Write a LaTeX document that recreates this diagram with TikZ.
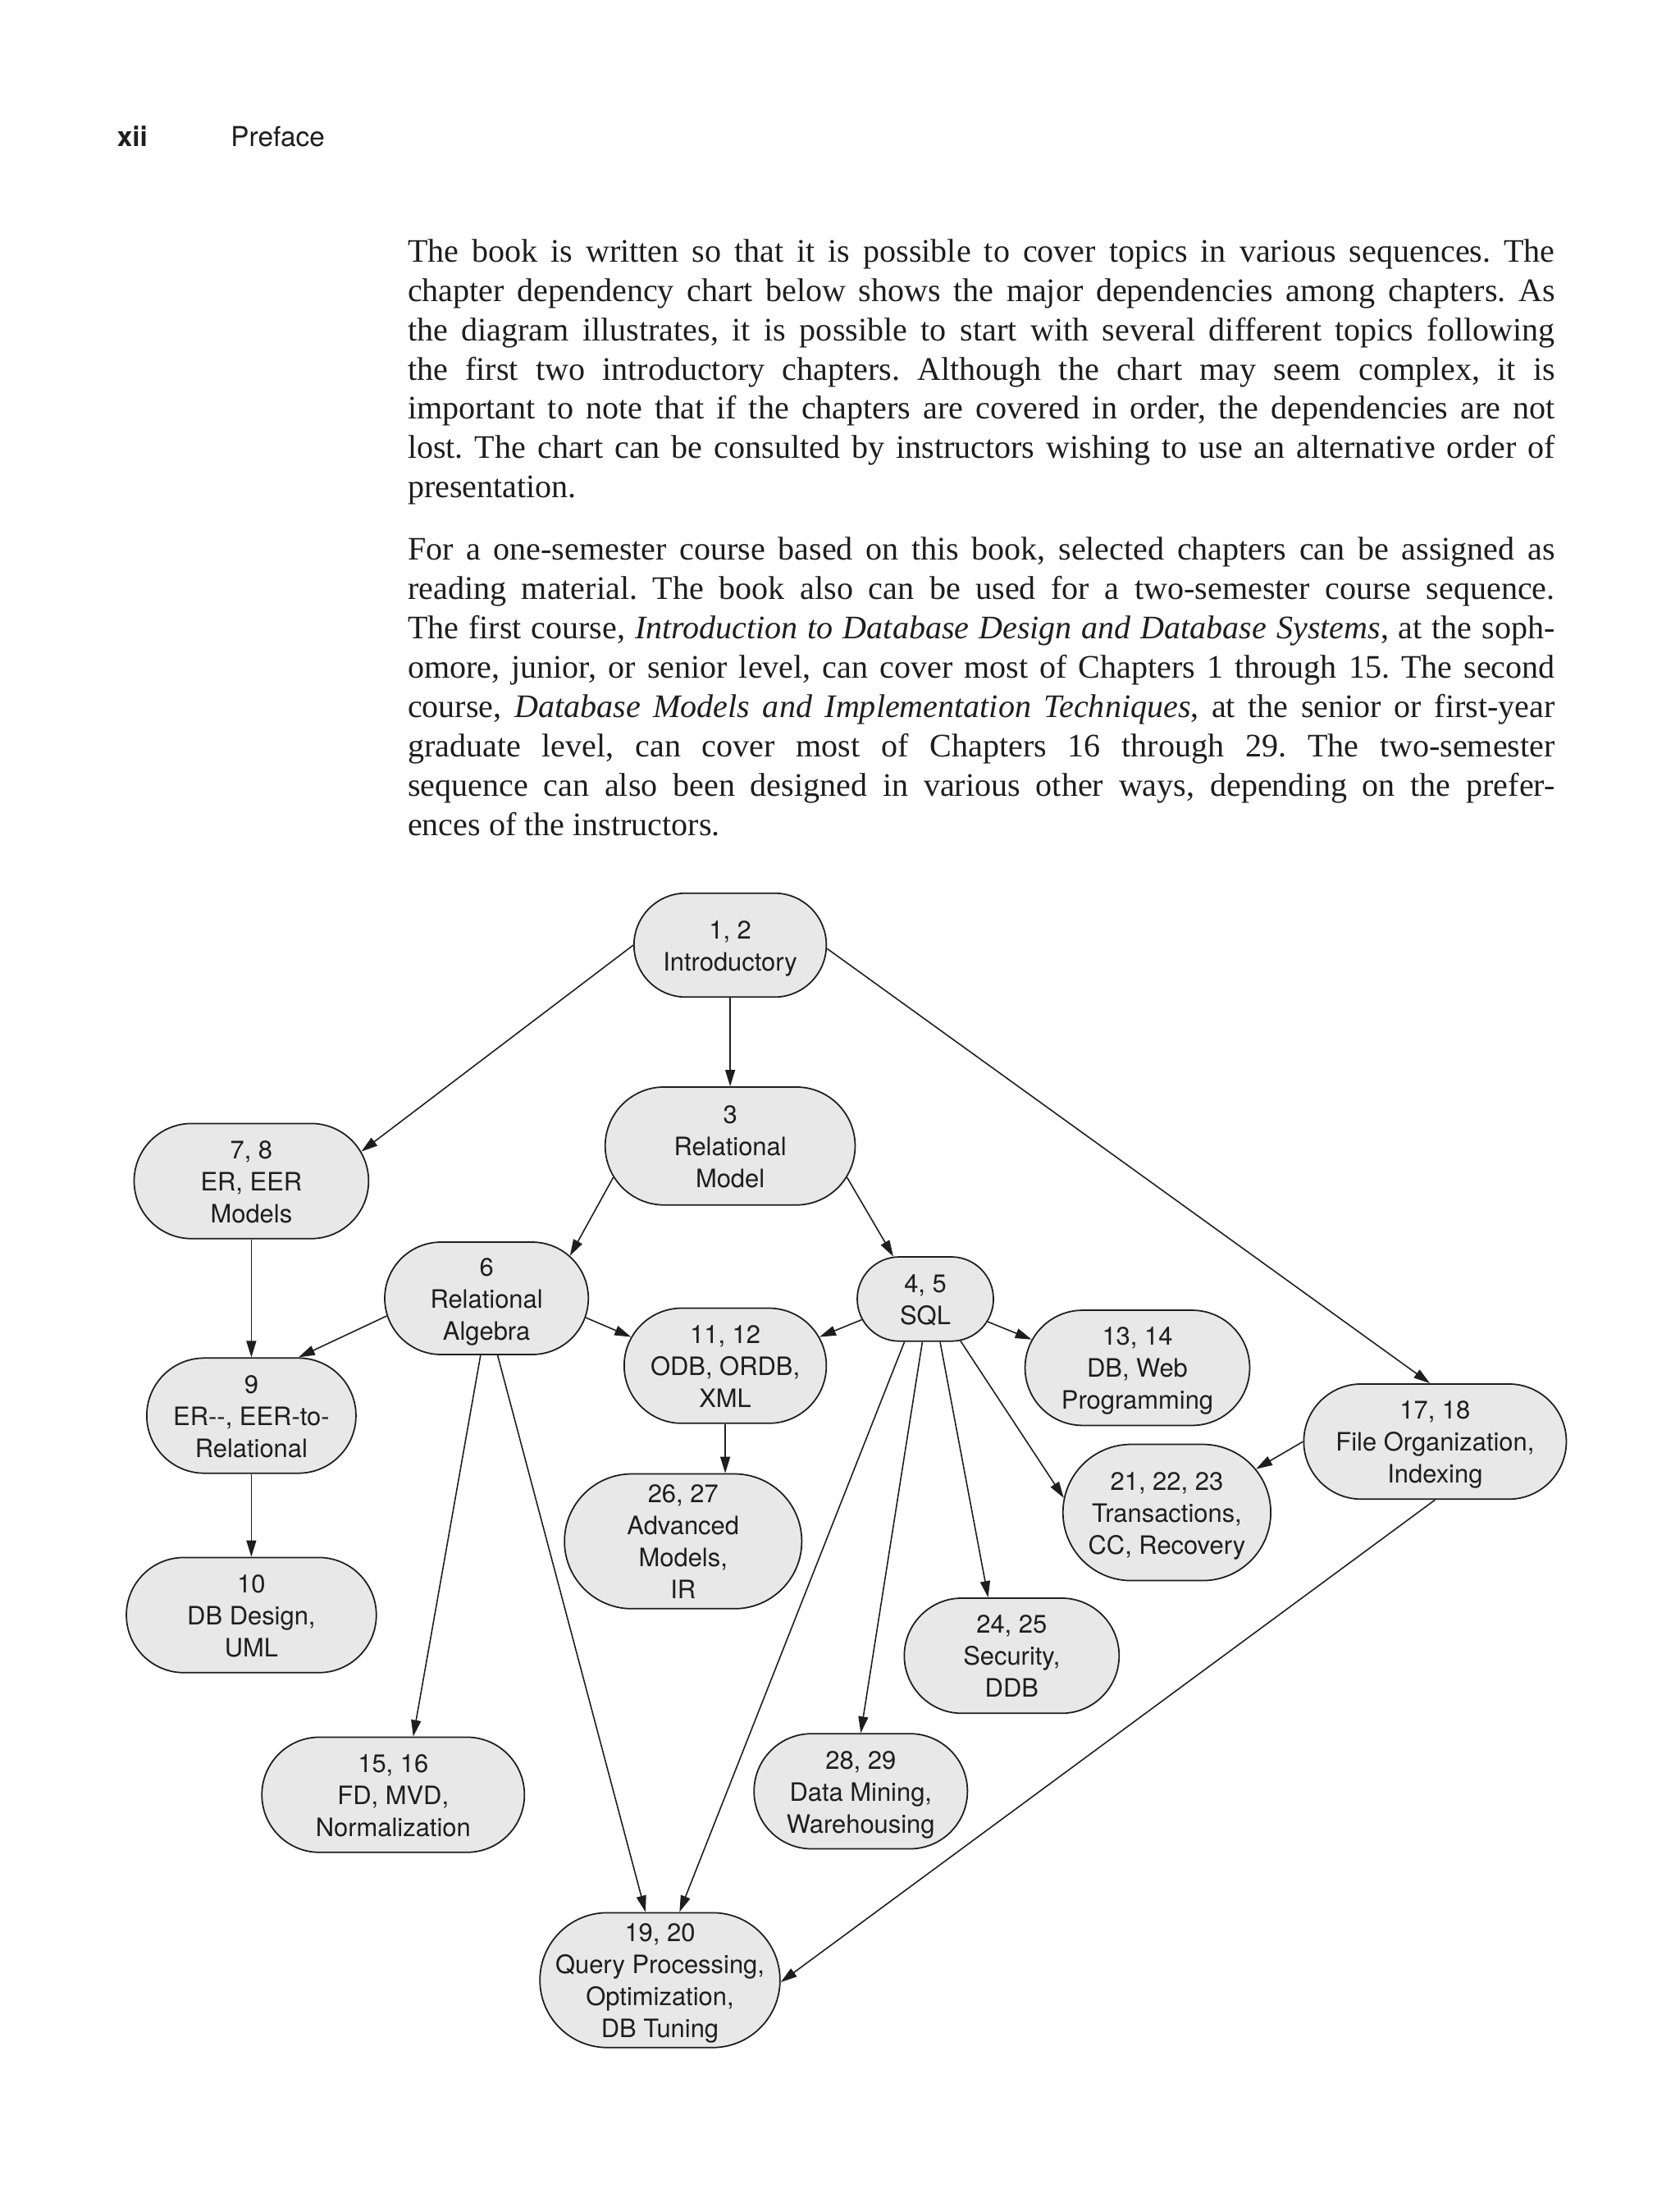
\documentclass[tikz,border=0pt]{standalone}
\usepackage{fontspec}
\setmainfont{Liberation Serif}
\setsansfont{TeX Gyre Heros}
\usepackage{xcolor}
\definecolor{chapfill}{RGB}{232,232,232}
\definecolor{ink}{RGB}{30,30,30}
\usepackage{tikz}
\usetikzlibrary{shapes.misc, arrows.meta, positioning}
\newdimen\spx \spx=0.017124cm
% one justified text line, and the last line of a paragraph
\newcommand{\jline}[1]{\hbox to 817\spx{#1}}
\newcommand{\eline}[1]{\hbox{#1}}
% chapter label: centred lines in a box of no width
\newcommand{\chapt}[1]{\makebox[0pt]{\raisebox{-1.1pt}[\height][\depth]{\begin{tabular}{@{}c@{}}#1\end{tabular}}}}

\begin{document}
\begin{tikzpicture}[
  x=\spx, y=-\spx,
  chap/.style={rounded rectangle, draw=ink, fill=chapfill, line width=0.5pt,
               inner xsep=0pt, inner ysep=0pt, text=ink,
               font=\sffamily\fontsize{8.8}{11.1}\selectfont},
  arr/.style={-{Triangle[length=2mm,width=1.2mm]}, line width=0.45pt, ink},
  para/.style={anchor=base west, inner sep=0pt, text=ink,
               font=\fontsize{11.4}{13.64}\selectfont\frenchspacing},
  head/.style={anchor=base west, inner sep=0pt, text=ink,
               font=\sffamily\fontsize{9.5}{11}\selectfont}
]
\fill[white] (0,0) rectangle (1196,1568);
\useasboundingbox (0,0) rectangle (1196,1568);

% ---- Page head and text ----
\node[head, font=\sffamily\bfseries\fontsize{9.5}{11}\selectfont] (pagenum) at (83,104.5) {xii};
\node[head] (running) at (164,104.5) {Preface};

\node[para] (intro) at (290,186.5) {\vtop{%
\jline{The book is written so that it is possible to cover topics in various sequences. The}
\jline{chapter dependency chart below shows the major dependencies among chapters. As}
\jline{the diagram illustrates, it is possible to start with several different topics following}
\jline{the first two introductory chapters. Although the chart may seem complex, it is}
\jline{important to note that if the chapters are covered in order, the dependencies are not}
\jline{lost. The chart can be consulted by instructors wishing to use an alternative order of}
\eline{presentation.}}};

\node[para] (course) at (290,399) {\vtop{%
\jline{For a one-semester course based on this book, selected chapters can be assigned as}
\jline{reading material. The book also can be used for a two-semester course sequence.}
\jline{The first course, \textit{Introduction to Database Design and Database Systems}, at the soph-}
\jline{omore, junior, or senior level, can cover most of Chapters 1 through 15. The second}
\jline{course, \textit{Database Models and Implementation Techniques}, at the senior or first-year}
\jline{graduate level, can cover most of Chapters 16 through 29. The two-semester}
\jline{sequence can also been designed in various other ways, depending on the prefer-}
\eline{ences of the instructors.}}};

% ---- Left column ----
\node[chap, minimum width=137\spx, minimum height=74\spx] (n12) at (520,673) {\chapt{1, 2\\Introductory}};
\node[chap, minimum width=178\spx, minimum height=84\spx, below=63\spx of n12] (n3) {\chapt{3\\Relational\\Model}};
\node[chap, minimum width=167\spx, minimum height=82\spx] (n78) at (179,841) {\chapt{7, 8\\ER, EER\\Models}};
\node[chap, minimum width=149\spx, minimum height=82\spx, below=84\spx of n78] (n9) {\chapt{9\\ER-{}-, EER-to-\\Relational}};
\node[chap, minimum width=178\spx, minimum height=82\spx, below=59\spx of n9] (n10) {\chapt{10\\DB Design,\\UML}};

% ---- Middle column ----
\node[chap, minimum width=145\spx, minimum height=80\spx] (n6) at (346.5,924.5) {\chapt{6\\Relational\\Algebra}};
\node[chap, minimum width=144\spx, minimum height=82\spx] (n1112) at (516.5,972.5) {\chapt{11, 12\\ODB, ORDB,\\XML}};
\node[chap, minimum width=169\spx, minimum height=96\spx, below=35\spx of n1112, xshift=-30\spx] (n2627) {\chapt{26, 27\\Advanced\\Models,\\IR}};
\node[chap, minimum width=187\spx, minimum height=82\spx] (n1516) at (280,1278) {\chapt{15, 16\\FD, MVD,\\Normalization}};
\node[chap, minimum width=171\spx, minimum height=96\spx] (n1920) at (470,1410) {\chapt{19, 20\\Query Processing,\\Optimization,\\DB Tuning}};

% ---- Right column ----
\node[chap, minimum width=97\spx, minimum height=60\spx] (n45) at (659,925) {\chapt{4, 5\\SQL}};
\node[chap, minimum width=160\spx, minimum height=82\spx] (n1314) at (810,974) {\chapt{13, 14\\DB, Web\\Programming}};
\node[chap, minimum width=187\spx, minimum height=82\spx] (n1718) at (1022,1026.5) {\chapt{17, 18\\File Organization,\\Indexing}};
\node[chap, minimum width=148\spx, minimum height=97\spx] (n2123) at (831,1077) {\chapt{21, 22, 23\\Transactions,\\CC, Recovery}};
\node[chap, minimum width=153\spx, minimum height=82\spx] (n2425) at (720.5,1179) {\chapt{24, 25\\Security,\\DDB}};
\node[chap, minimum width=152\spx, minimum height=82\spx] (n2829) at (613,1275.5) {\chapt{28, 29\\Data Mining,\\Warehousing}};

% ---- Dependencies ----
\draw[arr] (n12.west) -- (n78.15);
\draw[arr] (n12.south) -- (n3.north);
\draw[arr] (n12.358) -- (n1718.95);
\draw[arr] (n3.195) -- (n6.27);
\draw[arr] (n3.345) -- (n45.127);
\draw[arr] (n78.south) -- (n9.north);
\draw[arr] (n9.south) -- (n10.north);
\draw[arr] (n6.190) -- (n9.51);
\draw[arr] (n6.349) -- (n1112.163);
\draw[arr] (n6.264) -- (n1516.71);
\draw[arr] (n6.281) -- (n1920.102);
\draw[arr] (n1112.south) -- (n1112.south |- n2627.north);
\draw[arr] (n45.198) -- (n1112.17);
\draw[arr] (n45.340) -- (n1314.165);
\draw[arr] (n45.244) -- (n1920.74);
\draw[arr] (n45.266) -- (n2829.90);
\draw[arr] (n45.289) -- (n2425.112);
\draw[arr] (n45.310) -- (n2123.172);
\draw[arr] (n1718.180) -- (n2123.26);
\draw[arr] (n1718.south) -- (n1920.359);

\end{tikzpicture}
\end{document}
